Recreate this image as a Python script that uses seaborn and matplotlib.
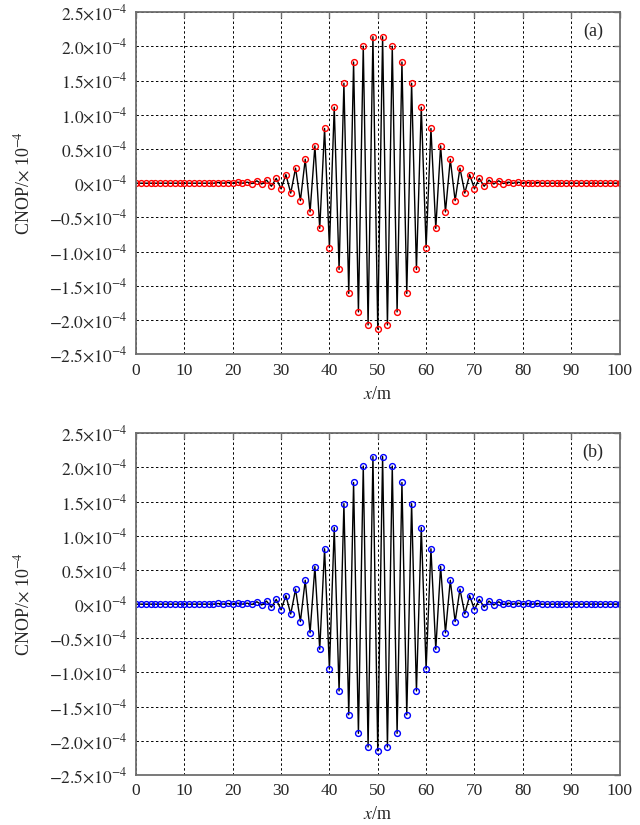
import matplotlib
matplotlib.use("Agg")
import matplotlib.pyplot as plt
import seaborn as sns
import pandas as pd
from matplotlib.ticker import FixedLocator, FuncFormatter

# Positions along the line (m)
x_m = list(range(0, 101))

# CNOP amplitudes, in units of 1e-4, panel (a)
cnop_a = [
    0.0, 0.0, 0.0, 0.0, 0.0, 0.0, 0.0, 0.0, 0.0, 0.0,
    0.0, 0.0, 0.0, 0.0, 0.0, 0.0, 0.0, 0.01, 0.0, 0.01,
    0.0, 0.015, 0.0, 0.015, -0.005, 0.035, -0.012, 0.045, -0.045, 0.07,
    -0.082, 0.125, -0.145, 0.22, -0.256, 0.35, -0.42, 0.545, -0.66, 0.80,
    -0.94, 1.11, -1.26, 1.46, -1.61, 1.77, -1.88, 2.00, -2.07, 2.14,
    -2.13,
    2.14, -2.07, 2.00, -1.88, 1.77, -1.61, 1.46, -1.26, 1.11, -0.94,
    0.80, -0.66, 0.545, -0.42, 0.35, -0.256, 0.22, -0.145, 0.125, -0.082,
    0.07, -0.045, 0.045, -0.012, 0.035, -0.005, 0.015, 0.0, 0.015, 0.0,
    0.01, 0.0, 0.01, 0.0, 0.0, 0.0, 0.0, 0.0, 0.0, 0.0,
    0.0, 0.0, 0.0, 0.0, 0.0, 0.0, 0.0, 0.0, 0.0, 0.0,
]

# CNOP amplitudes, in units of 1e-4, panel (b)
cnop_b = [
    0.0, 0.0, 0.0, 0.0, 0.0, 0.0, 0.0, 0.0, 0.0, 0.0,
    0.0, 0.0, 0.0, 0.0, 0.0, 0.0, 0.0, 0.01, 0.0, 0.01,
    0.0, 0.015, 0.0, 0.015, -0.005, 0.035, -0.012, 0.045, -0.045, 0.07,
    -0.082, 0.125, -0.145, 0.22, -0.256, 0.35, -0.42, 0.55, -0.66, 0.81,
    -0.95, 1.12, -1.27, 1.47, -1.62, 1.78, -1.89, 2.02, -2.09, 2.16,
    -2.145,
    2.16, -2.09, 2.02, -1.89, 1.78, -1.62, 1.47, -1.27, 1.12, -0.95,
    0.81, -0.66, 0.55, -0.42, 0.35, -0.256, 0.22, -0.145, 0.125, -0.082,
    0.07, -0.045, 0.045, -0.012, 0.035, -0.005, 0.015, 0.0, 0.015, 0.0,
    0.01, 0.0, 0.01, 0.0, 0.0, 0.0, 0.0, 0.0, 0.0, 0.0,
    0.0, 0.0, 0.0, 0.0, 0.0, 0.0, 0.0, 0.0, 0.0, 0.0,
]

x_ticks = [0, 10, 20, 30, 40, 50, 60, 70, 80, 90, 100]
y_ticks = [-2.5, -2.0, -1.5, -1.0, -0.5, 0.0, 0.5, 1.0, 1.5, 2.0, 2.5]
panel_tags = ["(a)", "(b)"]
marker_colors = ["#ff0000", "#0000ff"]

sns.set_style("white")
plt.rcParams["font.family"] = ["Liberation Serif", "DejaVu Serif"]
plt.rcParams["mathtext.fontset"] = "stix"
plt.rcParams["axes.unicode_minus"] = True

fig = plt.figure(figsize=(6.4, 8.25), dpi=100)
ax_a = fig.add_axes([0.2125, 0.5705, 0.7555, 0.4149])
ax_b = fig.add_axes([0.2125, 0.0606, 0.7555, 0.4142])


def y_label_fmt(v, _pos):
    if abs(v) < 1e-9:
        return r"$0{\times}10^{-4}$"
    return r"$%.1f{\times}10^{-4}$" % v


spine_grey = "#6e6e6e"

for ax, vals, tag, mcol in zip([ax_a, ax_b], [cnop_a, cnop_b], panel_tags, marker_colors):
    df = pd.DataFrame({"x": x_m, "cnop": vals})
    sns.lineplot(
        data=df, x="x", y="cnop", ax=ax, color="black", linewidth=1.0,
        marker="o", markersize=4.2, markerfacecolor="none",
        markeredgecolor=mcol, markeredgewidth=1.0, sort=False,
        estimator=None,
    )
    ax.set_xlim(0, 100)
    ax.set_ylim(-2.5, 2.5)
    ax.xaxis.set_major_locator(FixedLocator(x_ticks))
    ax.yaxis.set_major_locator(FixedLocator(y_ticks))
    ax.yaxis.set_major_formatter(FuncFormatter(y_label_fmt))
    ax.grid(True, color="black", linestyle=(0, (2.5, 2.5)), linewidth=0.7)
    ax.tick_params(direction="in", length=4, width=1.0, color=spine_grey,
                   top=True, right=True, labelsize=12.5, pad=6)
    for s in ax.spines.values():
        s.set_color(spine_grey)
        s.set_linewidth(1.3)
    ax.set_xlabel(r"$x$/m", fontsize=13, labelpad=5)
    ax.set_ylabel(r"CNOP/$\times$ 10$^{-4}$", fontsize=13, labelpad=12)
    ax.text(0.945, 0.945, tag, transform=ax.transAxes, fontsize=13,
            ha="center", va="center")

fig.savefig("out.png", dpi=100)
